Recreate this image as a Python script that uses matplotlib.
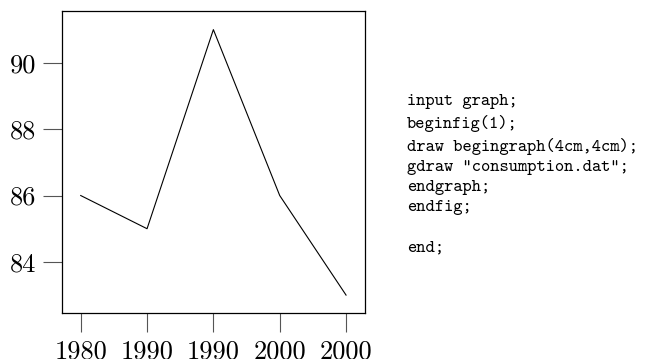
import matplotlib
matplotlib.use("Agg")
import matplotlib.pyplot as plt

# yearly consumption values
years = [1980, 1985, 1990, 1995, 2000]
consumption = [86, 85, 91, 86, 83]
year_labels = ["1980", "1990", "1990", "2000", "2000"]
y_ticks = [84, 86, 88, 90]

code_lines = [
    "input graph;",
    "beginfig(1);",
    "draw begingraph(4cm,4cm);",
    'gdraw "consumption.dat";',
    "endgraph;",
    "endfig;",
    "",
    "end;",
]

plt.rcParams["axes.formatter.use_mathtext"] = True

fig = plt.figure(figsize=(6.59, 3.59), dpi=100)
ax = fig.add_axes([0.0941, 0.1281, 0.4598, 0.8412])

ax.plot(years, consumption, color="black", linewidth=0.8)

ax.set_xlim(1978.59, 2001.43)
ax.set_ylim(82.46, 91.56)

ax.set_xticks(years)
ax.set_xticklabels(year_labels, family="cmr10", fontsize=19)
ax.set_yticks(y_ticks)
ax.set_yticklabels([str(v) for v in y_ticks], family="cmr10", fontsize=19)

ax.tick_params(axis="both", direction="out", length=13.5, width=0.8,
               color="#555555")
ax.tick_params(axis="x", pad=5.5)
ax.tick_params(axis="y", pad=5)

for side in ax.spines.values():
    side.set_linewidth(0.9)
    side.set_color("black")

fig.text(0.6176, 0.738, "\n".join(code_lines), family="cmtt10",
         fontsize=12.7, va="top", ha="left", linespacing=1.46)

fig.savefig("out.png", dpi=100)
